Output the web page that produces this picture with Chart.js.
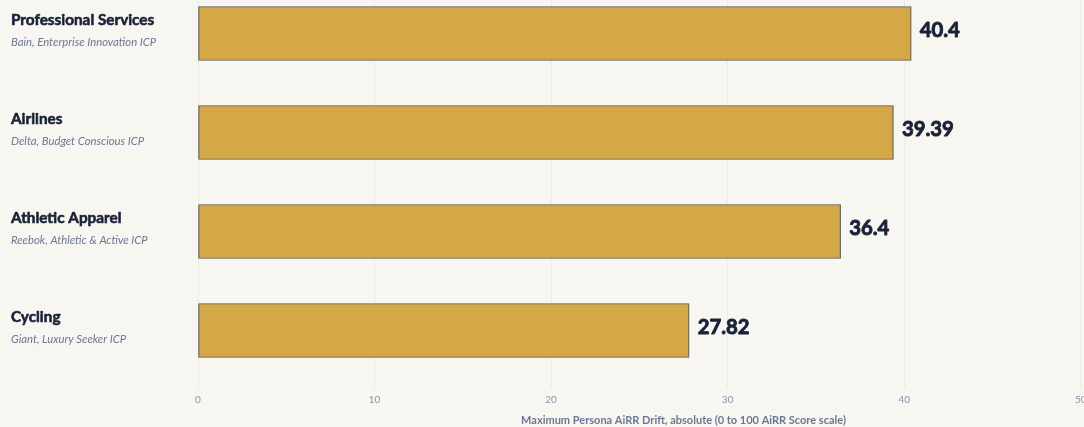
<!DOCTYPE html>
<html>
<head>
<meta charset="utf-8">
<script src="https://cdn.jsdelivr.net/npm/chart.js@4.4.1/dist/chart.umd.min.js"></script>
<style>
  html, body { margin: 0; padding: 0; background: #f8f6f1; overflow: hidden; width: 1084px; height: 427px; }
  #wrap { position: absolute; left: 0; top: -16px; width: 1190px; height: 443px; }
</style>
</head>
<body>
<div id="wrap"><canvas id="c" width="1190" height="443"></canvas></div>
<script>
const categories = ["Professional Services", "Airlines", "Athletic Apparel", "Cycling"];
const subtitles = ["Bain, Enterprise Innovation ICP", "Delta, Budget Conscious ICP", "Reebok, Athletic & Active ICP", "Giant, Luxury Seeker ICP"];
const values = [40.4, 39.39, 36.4, 27.82];
const valueLabels = ["40.4", "39.39", "36.4", "27.82"];
const xTicks = [0, 10, 20, 30, 40, 50];
const xTitle = "Maximum Persona AiRR Drift, absolute (0 to 100 AiRR Score scale)";

const labelPlugin = {
  id: 'labels',
  afterDatasetsDraw(chart) {
    const ctx = chart.ctx;
    const ys = chart.scales.y;
    const xs = chart.scales.x;
    ctx.save();
    ctx.lineJoin = 'round';
    categories.forEach((cat, i) => {
      const yc = ys.getPixelForValue(i);
      ctx.textAlign = 'left';
      ctx.textBaseline = 'middle';
      ctx.fillStyle = '#1a2238';
      ctx.strokeStyle = '#1a2238';
      ctx.font = 'bold 15.3px Lato';
      ctx.lineWidth = 0.6;
      ctx.fillText(cat, 11, yc - 13);
      ctx.strokeText(cat, 11, yc - 13);
      ctx.fillStyle = '#6b7794';
      ctx.font = 'italic 11.3px Lato';
      ctx.fillText(subtitles[i], 11, yc + 9);
      const xe = xs.getPixelForValue(values[i]);
      ctx.fillStyle = '#1a2238';
      ctx.font = 'bold 20.3px Lato';
      ctx.lineWidth = 0.9;
      ctx.fillText(valueLabels[i], xe + 8.5, yc - 3);
      ctx.strokeText(valueLabels[i], xe + 8.5, yc - 3);
    });
    ctx.restore();
  }
};

function build() {
  new Chart(document.getElementById('c'), {
    type: 'bar',
    data: {
      labels: categories,
      datasets: [{
        data: values,
        backgroundColor: '#d4a847',
        borderColor: '#5a5a5a',
        borderWidth: 1.2,
        borderSkipped: false,
        barThickness: 54
      }]
    },
    options: {
      indexAxis: 'y',
      responsive: false,
      animation: false,
      layout: { padding: { top: 0, right: 21, bottom: 0, left: 0 } },
      plugins: { legend: { display: false }, tooltip: { enabled: false } },
      scales: {
        x: {
          type: 'linear',
          min: 0,
          max: 55,
          afterBuildTicks(scale) { scale.ticks = xTicks.map(v => ({ value: v })); },
          afterFit(scale) { scale.height = 47; },
          grid: { color: 'rgba(0,0,0,0.045)', drawTicks: true, tickLength: 8 },
          border: { display: false },
          ticks: { color: '#8a93a6', font: { family: 'Lato', size: 10 }, padding: 6 },
          title: {
            display: true, text: xTitle, color: '#6b7794',
            font: { family: 'Lato', size: 11, weight: 'bold' },
            padding: { top: 4, bottom: 0 }
          }
        },
        y: {
          afterFit(scale) { scale.width = 198; },
          grid: { display: false },
          border: { display: false },
          ticks: { display: false }
        }
      }
    },
    plugins: [labelPlugin]
  });
}
Promise.all([
  document.fonts.load('bold 15px Lato'),
  document.fonts.load('italic 11px Lato'),
  document.fonts.load('10px Lato')
]).then(build, build);
</script>
</body>
</html>
